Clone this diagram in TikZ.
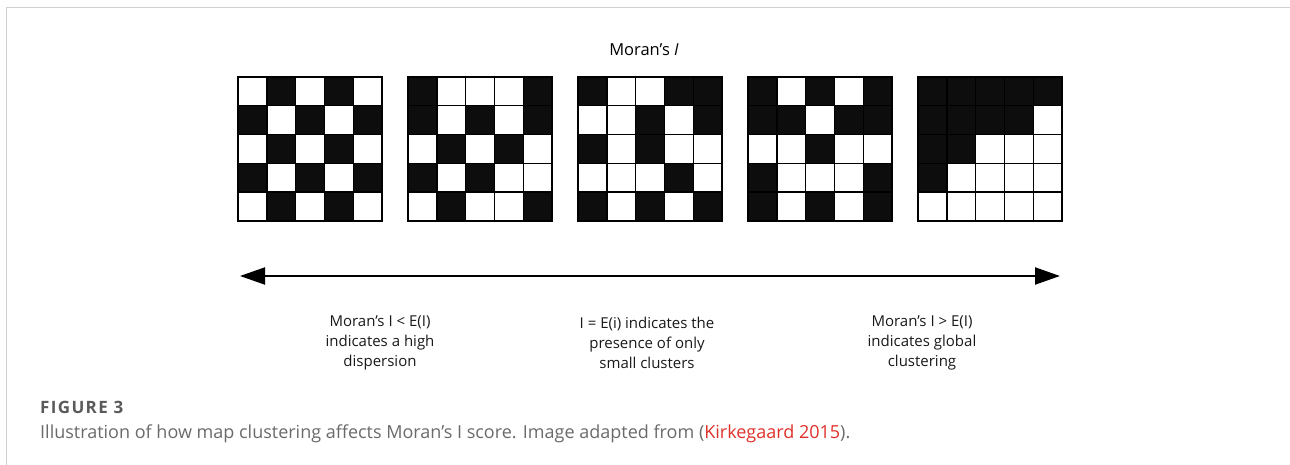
\documentclass[tikz,border=0pt]{standalone}
\usepackage{fontspec}
\setmainfont{Open Sans}
\usepackage{tikz}
\usetikzlibrary{arrows.meta}
\definecolor{framegray}{HTML}{D0D0D0}
\definecolor{capgray}{HTML}{5A5A5A}
\definecolor{txtgray}{HTML}{6A6A6A}
\definecolor{linkred}{HTML}{E0302A}

\begin{document}
\begin{tikzpicture}[x=1pt,y=-1pt,>=Triangle,
  cell/.style={draw=black,line width=1.4pt,fill=white},
  blk/.style={cell,fill=black!95},
  lbl/.style={align=center,text=black!90,font=\fontsize{15}{20}\selectfont}]
  \useasboundingbox (0,0) rectangle (1290,465);
  \draw[framegray,line width=1.5pt] (1290,7.5) -- (6.5,7.5) -- (6.5,465);
  \node (title) at (644,50) {\fontsize{16.5}{20}\selectfont Moran's \textit{I}};
  % the five 5x5 maps, black cells numbered row by row
  \foreach \g/\cells in {0/{1,3,5,7,9,11,13,15,17,19,21,23},
                         1/{0,4,5,7,9,11,13,15,17,21,24},
                         2/{0,3,4,7,9,10,12,18,20,22,24},
                         3/{0,2,4,5,6,8,9,12,15,19,20,22,24},
                         4/{0,1,2,3,4,5,6,7,8,10,11,15}}{
    \foreach \k in {0,...,24}
      \draw[cell] ({238+170*\g+28.8*mod(\k,5)},{77+28.8*int(\k/5)}) rectangle ++(28.8,28.8);
    \foreach \k in \cells
      \draw[blk] ({238+170*\g+28.8*mod(\k,5)},{77+28.8*int(\k/5)}) rectangle ++(28.8,28.8);
  }
  \coordinate (lo) at (240,276);
  \coordinate (hi) at (1060,276);
  \draw[<->,line width=2pt,arrows={Triangle[length=25pt,width=17pt]-Triangle[length=25pt,width=17pt]}] (lo) -- (hi);
  \node[lbl] (disp) at (380,343) {Moran's I < E(I)\\indicates a high\\dispersion};
  \node[lbl] (small) at (647,343) {I = E(i) indicates the\\presence of only\\small clusters};
  \node[lbl] (clus) at (922,343) {Moran's I > E(I)\\indicates global\\clustering};
  \node[anchor=base west,inner xsep=0pt,text=capgray,font=\fontsize{17}{20}\selectfont\bfseries\addfontfeature{LetterSpace=8}] (fig) at (40,413) {FIGURE 3};
  \node[anchor=base west,inner xsep=0pt,text=txtgray,font=\fontsize{18}{20}\selectfont] (cap) at (40,438)
    {Illustration of how map clustering affects Moran's I score. Image adapted from (\textcolor{linkred}{Kirkegaard 2015}).};
\end{tikzpicture}
\end{document}
